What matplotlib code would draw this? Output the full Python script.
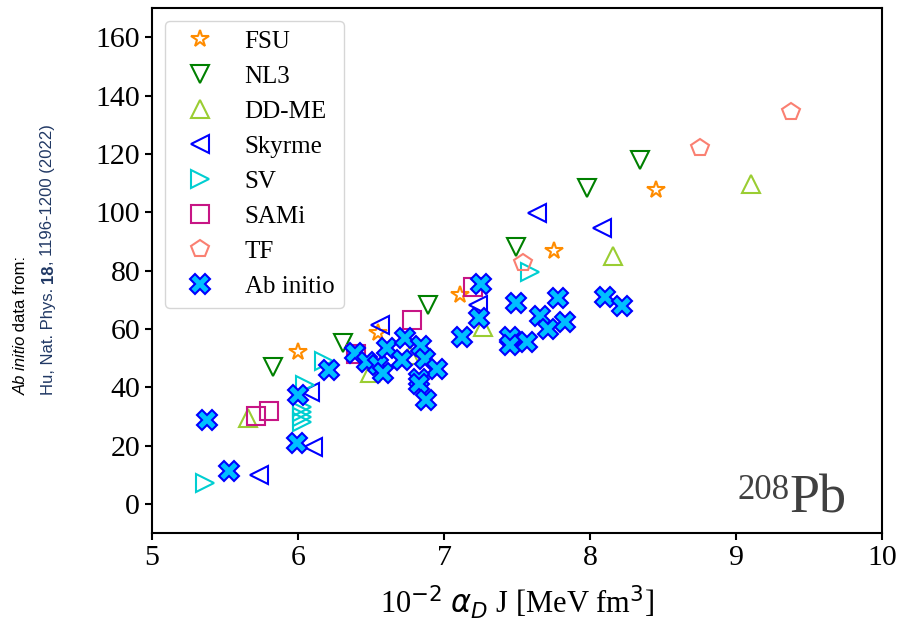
import matplotlib
matplotlib.use("Agg")
import matplotlib.pyplot as plt
from matplotlib.text import Annotation

plt.rcParams['font.family'] = ['Liberation Serif', 'DejaVu Serif']
plt.rcParams['mathtext.fontset'] = 'dejavusans'

# dados (x = 10^-2 alpha_D J, y = L)
fsu_x = [6.00, 6.55, 7.11, 7.75, 8.45]
fsu_y = [52.1, 58.6, 71.6, 86.7, 107.6]

nl3_x = [5.83, 6.31, 6.89, 7.49, 7.98, 8.34]
nl3_y = [46.9, 55.1, 68.2, 88.1, 108.3, 117.9]

ddme_x = [5.66, 6.49, 6.77, 7.27, 8.16, 9.10]
ddme_y = [29.4, 44.9, 51.0, 60.6, 85.0, 109.7]

skyrme_x = [5.73, 6.10, 6.08, 6.56, 7.23, 7.64, 8.08]
skyrme_y = [9.9, 19.5, 38.3, 61.3, 68.2, 99.7, 94.6]

sv_x = [5.36, 6.03, 6.03, 6.03, 6.03, 6.05, 6.18, 7.59]
sv_y = [7.1, 28.1, 29.8, 31.5, 33.2, 40.7, 49.0, 79.5]

sami_x = [5.71, 5.80, 6.40, 6.78, 7.20]
sami_y = [30.1, 31.8, 51.4, 63.0, 74.3]

tf_x = [7.54, 8.75, 9.38]
tf_y = [82.6, 122.0, 134.3]

ab_x = [5.38, 5.53, 5.99, 6.00, 6.21, 6.39, 6.47, 6.55, 6.58, 6.61, 6.73,
        6.71, 6.84, 6.87, 6.95, 6.83, 6.83, 6.88, 7.12, 7.25, 7.24, 7.49,
        7.45, 7.45, 7.57, 7.66, 7.71, 7.78, 7.83, 8.10, 8.22]
ab_y = [28.7, 11.3, 20.9, 37.3, 45.9, 51.7, 48.6, 47.6, 44.9, 53.4, 56.9,
        49.3, 54.1, 49.7, 46.2, 42.8, 41.1, 35.6, 57.2, 75.4, 63.7, 68.9,
        57.2, 54.5, 55.5, 64.4, 59.9, 70.6, 62.3, 70.9, 67.8]

fig = plt.figure(figsize=(9, 6.21), dpi=100)
ax = fig.add_axes([0.1689, 0.1417, 0.8111, 0.8454])

ms = 13
mew = 1.5
ax.plot(fsu_x, fsu_y, ls='none', marker='*', ms=ms, mew=mew, mfc='none', mec='darkorange', label='FSU')
ax.plot(nl3_x, nl3_y, ls='none', marker='v', ms=ms, mew=mew, mfc='none', mec='green', label='NL3')
ax.plot(ddme_x, ddme_y, ls='none', marker='^', ms=ms, mew=mew, mfc='none', mec='yellowgreen', label='DD-ME')
ax.plot(skyrme_x, skyrme_y, ls='none', marker='<', ms=ms, mew=mew, mfc='none', mec='blue', label='Skyrme')
ax.plot(sv_x, sv_y, ls='none', marker='>', ms=ms, mew=mew, mfc='none', mec='darkturquoise', label='SV')
ax.plot(sami_x, sami_y, ls='none', marker='s', ms=ms, mew=mew, mfc='none', mec='mediumvioletred', label='SAMi')
ax.plot(tf_x, tf_y, ls='none', marker='p', ms=ms, mew=mew, mfc='none', mec='salmon', label='TF')
ax.plot(ab_x, ab_y, ls='none', marker='X', ms=14, mew=mew, mfc='deepskyblue', mec='blue', label='Ab initio')

ax.set_xlim(5, 10)
ax.set_ylim(-10, 170)
ax.set_xticks([5, 6, 7, 8, 9, 10])
ax.set_yticks([0, 20, 40, 60, 80, 100, 120, 140, 160])
ax.tick_params(labelsize=21.5, width=1.5, length=5)
for s in ax.spines.values():
    s.set_linewidth(1.5)

ax.set_xlabel(r'10$^{-2}$ $\alpha_D$ J [MeV fm$^3$]', fontsize=22, labelpad=9)
ax.legend(loc='upper left', fontsize=18)

# rotulo do nucleo
pb = ax.text(0.952, 0.04, 'Pb', transform=ax.transAxes, ha='right', va='baseline',
             fontsize=39, color='#404040')
ax.annotate('208', xy=(0, 1), xycoords=pb, xytext=(0, 0), textcoords='offset points',
            ha='right', va='top', fontsize=25, color='#404040')

# fonte dos dados ab initio
sans = ['Liberation Sans Narrow', 'Liberation Sans', 'DejaVu Sans']
navy = '#203864'
fsz = 12


def chain(prev, txt, **kw):
    ann = Annotation(txt, xy=(0.5, 1), xycoords=prev, rotation=90, ha='center',
                     va='bottom', fontsize=fsz, family=sans, zorder=3, **kw)
    fig.add_artist(ann)
    return ann


t1 = fig.text(21 / 900, 1 - 395 / 621, 'Ab initio', rotation=90, ha='center', va='bottom',
              fontsize=fsz, style='italic', family=sans, zorder=3)
chain(t1, ' data from:')
t2 = fig.text(48 / 900, 1 - 395 / 621, 'Hu, Nat. Phys. ', rotation=90, ha='center', va='bottom',
              fontsize=fsz, family=sans, color=navy, zorder=3)
t3 = chain(t2, '18', weight='bold', color=navy)
chain(t3, ', 1196-1200 (2022)', color=navy)

plt.savefig('out.png', dpi=100)
